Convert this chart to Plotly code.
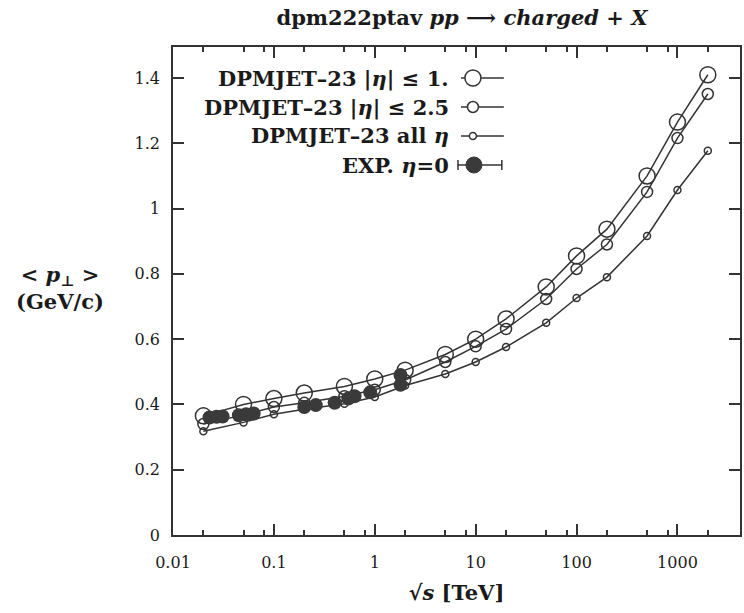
import plotly.graph_objects as go

# ---------------- data ----------------
sqrt_s = [0.02, 0.05, 0.1, 0.2, 0.5, 1, 2, 5, 10, 20, 50, 100, 200, 500, 1000, 2000]
pt_eta1 = [0.365, 0.400, 0.418, 0.435, 0.455, 0.478, 0.505, 0.553, 0.600, 0.662, 0.760, 0.855,
           0.937, 1.100, 1.265, 1.410]
pt_eta25 = [0.340, 0.368, 0.392, 0.405, 0.425, 0.445, 0.475, 0.530, 0.578, 0.631, 0.723, 0.815,
            0.890, 1.051, 1.216, 1.351]
pt_all = [0.318, 0.345, 0.370, 0.385, 0.402, 0.423, 0.458, 0.493, 0.530, 0.576, 0.650, 0.726,
          0.790, 0.916, 1.057, 1.177]

exp_x = [0.023, 0.027, 0.031, 0.045, 0.053, 0.063, 0.2, 0.26, 0.4, 0.546, 0.63, 0.9, 1.8, 1.8]
exp_y = [0.360, 0.362, 0.363, 0.367, 0.370, 0.372, 0.392, 0.398, 0.405, 0.418, 0.425, 0.437,
         0.460, 0.490]
exp_err = [0.005] * len(exp_x)

x_tickvals = [0.01, 0.1, 1, 10, 100, 1000]
x_ticktext = ["0.01", "0.1", "1", "10", "100", "1000"]
x_minor = [0.02, 0.05, 0.08, 0.2, 0.5, 0.8, 2, 5, 8, 20, 50, 80, 200, 500, 800, 2000]
y_tickvals = [0, 0.2, 0.4, 0.6, 0.8, 1.0, 1.2, 1.4]
y_ticktext = ["0", "0.2", "0.4", "0.6", "0.8", "1", "1.2", "1.4"]

legend_labels = [
    "DPMJET–23 |<i>η</i>| ≤ 1.",
    "DPMJET–23 |<i>η</i>| ≤ 2.5",
    "DPMJET–23 all <i>η</i>",
    "EXP. <i>η</i>=0",
]

# ---------------- style ----------------
INK = "#333333"
TXT = "#1a1a1a"
FONT = "DejaVu Serif"

fig = go.Figure()

def model(y, size):
    fig.add_trace(go.Scatter(
        x=sqrt_s, y=y, mode="lines+markers",
        line=dict(color=INK, width=1.5),
        marker=dict(symbol="circle-open", size=size, color=INK, line=dict(width=1.5)),
        showlegend=False, hoverinfo="skip"))

model(pt_eta1, 16)
model(pt_eta25, 11)
model(pt_all, 7)

fig.add_trace(go.Scatter(
    x=exp_x, y=exp_y, mode="markers",
    marker=dict(symbol="circle", size=14, color="#3a3a3a"),
    error_y=dict(type="data", array=exp_err, color=INK, thickness=1, width=3),
    showlegend=False, hoverinfo="skip"))

# ---------------- layout geometry ----------------
L, T, W, H = 173, 47, 569, 488
fig_w, fig_h = 744, 613

def px_to_paper_x(px):
    return (px - L) / W

def px_to_paper_y(py):
    return (T + H - py) / H

annotations = []
shapes = []
row_y = [78, 107, 136, 165]
sizes = [16, 11, 7]
for i, lab in enumerate(legend_labels):
    yy = px_to_paper_y(row_y[i])
    annotations.append(dict(
        text="<b>" + lab + "</b>", x=px_to_paper_x(452), y=yy, xref="paper", yref="paper",
        xanchor="right", yanchor="middle", showarrow=False,
        font=dict(family=FONT, size=21, color=TXT)))
    if i < 3:
        shapes.append(dict(type="line", xref="paper", yref="paper",
                           x0=px_to_paper_x(462), x1=px_to_paper_x(505), y0=yy, y1=yy,
                           line=dict(color=INK, width=1.5)))
        r = sizes[i] / 2
        shapes.append(dict(type="circle", xref="paper", yref="paper",
                           xsizemode="pixel", ysizemode="pixel",
                           xanchor=px_to_paper_x(474), yanchor=yy,
                           x0=-r, x1=r, y0=-r, y1=r,
                           line=dict(color=INK, width=1.5), fillcolor="white"))
    else:
        shapes.append(dict(type="line", xref="paper", yref="paper",
                           x0=px_to_paper_x(459), x1=px_to_paper_x(503), y0=yy, y1=yy,
                           line=dict(color=INK, width=1.5)))
        for xe in (459, 503):
            shapes.append(dict(type="line", xref="paper", yref="paper",
                               ysizemode="pixel", yanchor=yy,
                               x0=px_to_paper_x(xe), x1=px_to_paper_x(xe), y0=-5, y1=5,
                               line=dict(color=INK, width=1.5)))
        shapes.append(dict(type="circle", xref="paper", yref="paper",
                           xsizemode="pixel", ysizemode="pixel",
                           xanchor=px_to_paper_x(475), yanchor=yy,
                           x0=-8, x1=8, y0=-8, y1=8,
                           line=dict(color="#3a3a3a", width=1), fillcolor="#3a3a3a"))

# y-axis label (horizontal, left of axis)
annotations.append(dict(
    text="<b>&lt; <i>p</i><sub>⊥</sub> &gt;<br>(GeV/c)</b>",
    x=px_to_paper_x(60), y=px_to_paper_y(288), xref="paper", yref="paper",
    xanchor="center", yanchor="middle", showarrow=False, align="center",
    font=dict(family=FONT, size=21, color=TXT)))

fig.update_layout(
    width=fig_w, height=fig_h,
    margin=dict(l=L, r=fig_w - L - W, t=T, b=fig_h - T - H),
    paper_bgcolor="white", plot_bgcolor="white",
    title=dict(text="<b>dpm222ptav <i>pp</i> ⟶ <i>charged</i> + <i>X</i></b>",
               x=px_to_paper_x(462) * W / fig_w + L / fig_w, xanchor="center",
               y=1 - 18 / fig_h, yanchor="middle",
               font=dict(family=FONT, size=21, color=TXT)),
    annotations=annotations, shapes=shapes,
    showlegend=False,
)

fig.update_xaxes(
    type="log", range=[-2, 3.62],
    tickmode="array", tickvals=x_tickvals, ticktext=x_ticktext,
    ticks="inside", ticklen=11, tickwidth=1.5, tickcolor=INK,
    minor=dict(tickmode="array", tickvals=x_minor, ticks="inside", ticklen=5,
               tickwidth=1.5, tickcolor=INK, showgrid=False),
    showline=True, linecolor=INK, linewidth=1.5, mirror="allticks",
    showgrid=False, zeroline=False,
    ticklabelstandoff=12,
    tickfont=dict(family=FONT, size=16, color=TXT),
    title=dict(text="<b>√<i>s</i> [TeV]</b>", standoff=14,
               font=dict(family=FONT, size=21, color=TXT)),
)
fig.update_yaxes(
    range=[0, 1.495],
    tickmode="array", tickvals=y_tickvals, ticktext=y_ticktext,
    ticks="inside", ticklen=11, tickwidth=1.5, tickcolor=INK,
    showline=True, linecolor=INK, linewidth=1.5, mirror="allticks",
    showgrid=False, zeroline=False,
    ticklabelstandoff=8,
    tickfont=dict(family=FONT, size=16, color=TXT),
)

fig.write_html("out.html")
